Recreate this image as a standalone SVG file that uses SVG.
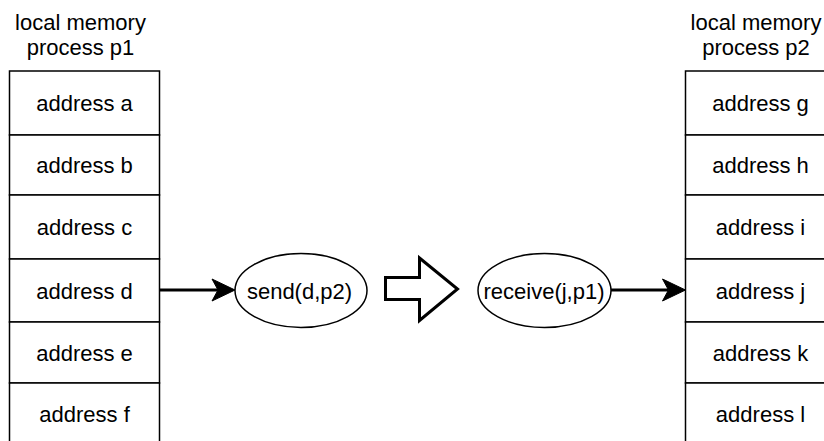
<svg xmlns="http://www.w3.org/2000/svg" width="824" height="441" viewBox="0 0 824 441">
  <style>
    .cell { fill: #ffffff; stroke: #000000; stroke-width: 1.5; }
    .txt { font-family: "Liberation Sans", Arial, Helvetica, sans-serif; font-size: 22px; fill: #000000; text-anchor: middle; }
    .edge { fill: none; stroke: #000000; stroke-width: 3; }
    .oval { fill: #ffffff; stroke: #000000; stroke-width: 1.5; }
    .block { fill: #ffffff; stroke: #000000; stroke-width: 3; stroke-linejoin: miter; }
  </style>
  <defs>
    <marker id="classic" markerUnits="userSpaceOnUse" markerWidth="26" markerHeight="26" viewBox="0 0 26 24" refX="7" refY="12" orient="auto">
      <path d="M24,12 L1,1 L7,12 L1,23 Z" fill="#000000" stroke="#000000" stroke-width="1"/>
    </marker>
  </defs>

  <rect width="824" height="441" fill="#ffffff"/>

  <!-- process p1 memory -->
  <g id="label-p1">
    <text class="txt" x="80.5" y="29.5">local memory</text>
    <text class="txt" x="80.5" y="54.5">process p1</text>
  </g>
  <g id="addr-a"><rect class="cell" x="9.5" y="71" width="150" height="64"/><text class="txt" x="84.5" y="111">address a</text></g>
  <g id="addr-b"><rect class="cell" x="9.5" y="135" width="150" height="60"/><text class="txt" x="84.5" y="173">address b</text></g>
  <g id="addr-c"><rect class="cell" x="9.5" y="195" width="150" height="64"/><text class="txt" x="84.5" y="235">address c</text></g>
  <g id="addr-d"><rect class="cell" x="9.5" y="259" width="150" height="63"/><text class="txt" x="84.5" y="298.5">address d</text></g>
  <g id="addr-e"><rect class="cell" x="9.5" y="322" width="150" height="61"/><text class="txt" x="84.5" y="360.5">address e</text></g>
  <g id="addr-f"><rect class="cell" x="9.5" y="383" width="150" height="62"/><text class="txt" x="84.5" y="422">address f</text></g>

  <!-- process p2 memory -->
  <g id="label-p2">
    <text class="txt" x="756" y="29.5">local memory</text>
    <text class="txt" x="756" y="54.5">process p2</text>
  </g>
  <g id="addr-g"><rect class="cell" x="685.5" y="71" width="150" height="64"/><text class="txt" x="760.5" y="111">address g</text></g>
  <g id="addr-h"><rect class="cell" x="685.5" y="135" width="150" height="60"/><text class="txt" x="760.5" y="173">address h</text></g>
  <g id="addr-i"><rect class="cell" x="685.5" y="195" width="150" height="64"/><text class="txt" x="760.5" y="235">address i</text></g>
  <g id="addr-j"><rect class="cell" x="685.5" y="259" width="150" height="63"/><text class="txt" x="760.5" y="298.5">address j</text></g>
  <g id="addr-k"><rect class="cell" x="685.5" y="322" width="150" height="61"/><text class="txt" x="760.5" y="360.5">address k</text></g>
  <g id="addr-l"><rect class="cell" x="685.5" y="383" width="150" height="62"/><text class="txt" x="760.5" y="422">address l</text></g>

  <!-- message operations -->
  <g id="send">
    <ellipse class="oval" cx="301" cy="290.5" rx="66" ry="37"/>
    <text class="txt" x="299.5" y="299">send(d,p2)</text>
  </g>
  <g id="receive">
    <ellipse class="oval" cx="544.5" cy="290.5" rx="66.5" ry="37"/>
    <text class="txt" x="544" y="299">receive(j,p1)</text>
  </g>

  <!-- transfer block arrow -->
  <g id="transfer">
    <path class="block" d="M385.5,277.5 L419.5,277.5 L419.5,258 L457.5,289 L419.5,320.5 L419.5,299.5 L385.5,299.5 Z"/>
  </g>

  <!-- connectors -->
  <g id="connectors">
    <line class="edge" x1="159.5" y1="290" x2="218" y2="290" marker-end="url(#classic)"/>
    <line class="edge" x1="611" y1="290" x2="668.5" y2="290" marker-end="url(#classic)"/>
  </g>
</svg>
